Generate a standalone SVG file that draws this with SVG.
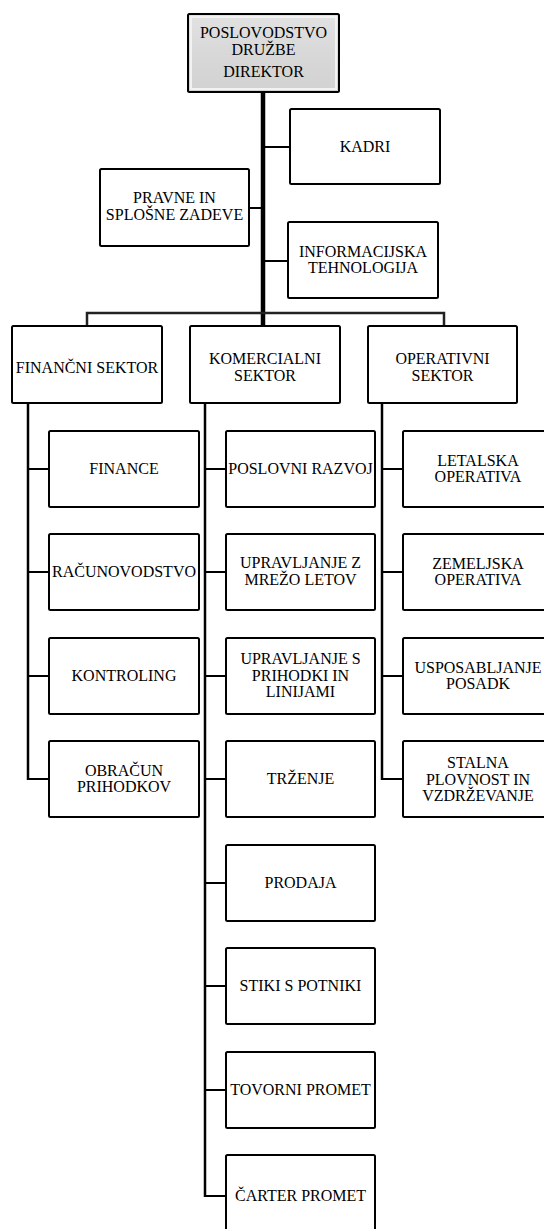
<svg xmlns="http://www.w3.org/2000/svg" width="544" height="1229" viewBox="0 0 544 1229" font-family="Liberation Serif, Times New Roman, serif" font-size="16">
<style>
.box{fill:#fff;stroke:#000;stroke-width:2}
.top{stroke:#000;stroke-width:2}
text{fill:#000;text-anchor:middle}
.ln{stroke:#000;stroke-width:2;fill:none}
.main{stroke:#000;stroke-width:4.5;fill:none}
.vs{stroke:#000;stroke-width:2.5;fill:none}
.bus{stroke:#222;stroke-width:2.5;fill:none}
</style>
<defs>
<linearGradient id="bev" x1="0" y1="0" x2="0" y2="1">
<stop offset="0" stop-color="#e2e2e2"/>
<stop offset="0.5" stop-color="#d8d8d8"/>
<stop offset="1" stop-color="#d2d2d2"/>
</linearGradient>
</defs>
<rect width="544" height="1229" fill="#fff"/>
<g id="connectors">
<line class="main" x1="263" y1="92" x2="263" y2="326"/>
<line class="ln" x1="263" y1="147" x2="290" y2="147"/>
<line class="ln" x1="249" y1="208" x2="263" y2="208"/>
<line class="ln" x1="263" y1="261" x2="288" y2="261"/>
<polyline class="bus" points="87,326 87,313 444,313 444,326"/>
<line class="vs" x1="28" y1="403" x2="28" y2="780"/>
<line class="ln" x1="28" y1="469" x2="49" y2="469"/>
<line class="ln" x1="28" y1="572" x2="49" y2="572"/>
<line class="ln" x1="28" y1="676" x2="49" y2="676"/>
<line class="ln" x1="27" y1="779" x2="49" y2="779"/>
<line class="vs" x1="205" y1="403" x2="205" y2="1197"/>
<line class="ln" x1="205" y1="469" x2="226" y2="469"/>
<line class="ln" x1="205" y1="572" x2="226" y2="572"/>
<line class="ln" x1="205" y1="676" x2="226" y2="676"/>
<line class="ln" x1="205" y1="779" x2="226" y2="779"/>
<line class="ln" x1="205" y1="883" x2="226" y2="883"/>
<line class="ln" x1="205" y1="986" x2="226" y2="986"/>
<line class="ln" x1="205" y1="1090" x2="226" y2="1090"/>
<line class="ln" x1="204" y1="1196" x2="226" y2="1196"/>
<line class="vs" x1="382" y1="403" x2="382" y2="780"/>
<line class="ln" x1="382" y1="469" x2="403" y2="469"/>
<line class="ln" x1="382" y1="572" x2="403" y2="572"/>
<line class="ln" x1="382" y1="676" x2="403" y2="676"/>
<line class="ln" x1="381" y1="779" x2="403" y2="779"/>
</g>
<g id="direktor">
<rect class="top" x="188" y="14" width="151" height="78" rx="1.5" fill="url(#bev)"/>
<rect x="191" y="17" width="145" height="72" fill="none" stroke="#f2f2f2" stroke-width="2"/>
<text x="263.5" y="38">POSLOVODSTVO</text>
<text x="263.5" y="55">DRUŽBE</text>
<text x="263.5" y="77">DIREKTOR</text>
</g>
<g id="kadri">
<rect class="box" x="290" y="109" width="150" height="75" rx="1.5"/>
<text x="365" y="152">KADRI</text>
</g>
<g id="pravne">
<rect class="box" x="100" y="169" width="149" height="77" rx="1.5"/>
<text x="174.5" y="203">PRAVNE IN</text>
<text x="174.5" y="220">SPLOŠNE ZADEVE</text>
</g>
<g id="it">
<rect class="box" x="288" y="222" width="150" height="76" rx="1.5"/>
<text x="363" y="257">INFORMACIJSKA</text>
<text x="363" y="273">TEHNOLOGIJA</text>
</g>
<g id="financni">
<rect class="box" x="12" y="326" width="150" height="77" rx="1.5"/>
<text x="87" y="373">FINANČNI SEKTOR</text>
</g>
<g id="komercialni">
<rect class="box" x="190" y="326" width="150" height="77" rx="1.5"/>
<text x="265" y="364">KOMERCIALNI</text>
<text x="265" y="381">SEKTOR</text>
</g>
<g id="operativni">
<rect class="box" x="368" y="326" width="149" height="77" rx="1.5"/>
<text x="442.5" y="364">OPERATIVNI</text>
<text x="442.5" y="381">SEKTOR</text>
</g>
<g id="finance">
<rect class="box" x="49" y="431" width="150" height="76" rx="1.5"/>
<text x="124" y="474">FINANCE</text>
</g>
<g id="racunovodstvo">
<rect class="box" x="49" y="534" width="150" height="76" rx="1.5"/>
<text x="124" y="577">RAČUNOVODSTVO</text>
</g>
<g id="kontroling">
<rect class="box" x="49" y="638" width="150" height="76" rx="1.5"/>
<text x="124" y="681">KONTROLING</text>
</g>
<g id="obracun">
<rect class="box" x="49" y="741" width="150" height="76" rx="1.5"/>
<text x="124" y="776">OBRAČUN</text>
<text x="124" y="792">PRIHODKOV</text>
</g>
<g id="poslovni-razvoj">
<rect class="box" x="226" y="431" width="149" height="76" rx="1.5"/>
<text x="300.5" y="474">POSLOVNI RAZVOJ</text>
</g>
<g id="mreza">
<rect class="box" x="226" y="534" width="149" height="76" rx="1.5"/>
<text x="300.5" y="568">UPRAVLJANJE Z</text>
<text x="300.5" y="585">MREŽO LETOV</text>
</g>
<g id="prihodki">
<rect class="box" x="226" y="638" width="149" height="76" rx="1.5"/>
<text x="300.5" y="664">UPRAVLJANJE S</text>
<text x="300.5" y="681">PRIHODKI IN</text>
<text x="300.5" y="697">LINIJAMI</text>
</g>
<g id="trzenje">
<rect class="box" x="226" y="741" width="149" height="76" rx="1.5"/>
<text x="300.5" y="784">TRŽENJE</text>
</g>
<g id="prodaja">
<rect class="box" x="226" y="845" width="149" height="76" rx="1.5"/>
<text x="300.5" y="888">PRODAJA</text>
</g>
<g id="stiki">
<rect class="box" x="226" y="948" width="149" height="76" rx="1.5"/>
<text x="300.5" y="991">STIKI S POTNIKI</text>
</g>
<g id="tovorni">
<rect class="box" x="226" y="1052" width="149" height="76" rx="1.5"/>
<text x="300.5" y="1095">TOVORNI PROMET</text>
</g>
<g id="carter">
<rect class="box" x="226" y="1155" width="149" height="80" rx="1.5"/>
<text x="300.5" y="1201">ČARTER PROMET</text>
</g>
<g id="letalska">
<rect class="box" x="403" y="431" width="150" height="76" rx="1.5"/>
<text x="478" y="466">LETALSKA</text>
<text x="478" y="482">OPERATIVA</text>
</g>
<g id="zemeljska">
<rect class="box" x="403" y="534" width="150" height="76" rx="1.5"/>
<text x="478" y="569">ZEMELJSKA</text>
<text x="478" y="585">OPERATIVA</text>
</g>
<g id="usposabljanje">
<rect class="box" x="403" y="638" width="150" height="76" rx="1.5"/>
<text x="478" y="673">USPOSABLJANJE</text>
<text x="478" y="689">POSADK</text>
</g>
<g id="plovnost">
<rect class="box" x="403" y="741" width="150" height="76" rx="1.5"/>
<text x="478" y="768">STALNA</text>
<text x="478" y="785">PLOVNOST IN</text>
<text x="478" y="801">VZDRŽEVANJE</text>
</g>
</svg>
